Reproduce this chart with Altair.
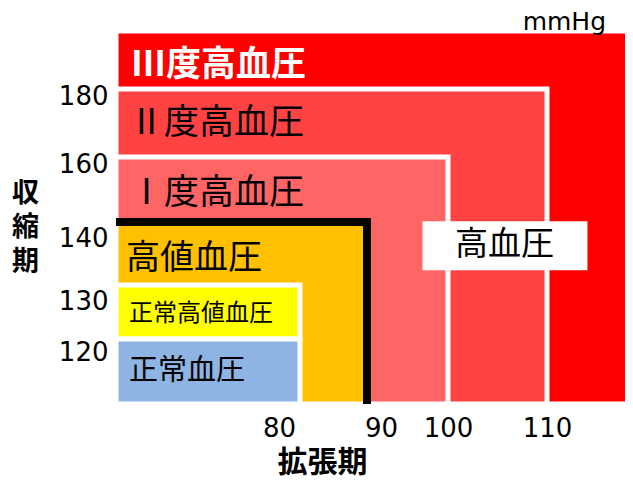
import altair as alt
import pandas as pd

# ---- data ----
categories = ["Ⅲ度高血圧", "Ⅱ度高血圧", "Ⅰ度高血圧", "高値血圧", "正常高値血圧", "正常血圧"]
sys_low = [100, 100, 100, 100, 120, 100]
sys_high = [200, 180, 160, 140, 130, 120]
dia_low = [60, 60, 60, 60, 60, 60]
dia_high = [130, 110, 100, 90, 80, 80]
region_colors = ["#FF0000", "#FF4343", "#FF6565", "#FFC000", "#FFFF00", "#8DB4E2"]

sys_ticks = [120, 130, 140, 160, 180]
dia_ticks = [80, 90, 100, 110]

# border of the "high blood pressure" threshold (thick black line)
border_dia = [60, 90, 90]
border_sys = [140, 140, 100]

annotation_text = ["高血圧"]
annotation_dia = [105.7]
annotation_sys = [136.3]

# label position: middle of each band between successive upper bounds
bounds = sorted(set(sys_high + [min(sys_low)]), reverse=True)
label_sys = [(bounds[i] + bounds[i + 1]) / 2 for i in range(len(categories))]

regions = pd.DataFrame({
    "category": categories,
    "sys_low": sys_low,
    "sys_high": sys_high,
    "dia_low": dia_low,
    "dia_high": dia_high,
    "label_sys": label_sys,
})
border = pd.DataFrame({"dia": border_dia, "sys": border_sys, "i": range(len(border_dia))})
annot = pd.DataFrame({"text": annotation_text, "dia": annotation_dia, "sys": annotation_sys})

JP = "Noto Sans CJK JP"
NUM = "DejaVu Sans"

W, H = 509, 373
x_scale = alt.Scale(domain=[60, 80, 90, 100, 110, 130], range=[0, 184, 251, 332, 431, 540],
                    nice=False, zero=False)
y_scale = alt.Scale(domain=[100, 120, 130, 140, 160, 180, 200], range=[373, 308, 254, 191, 126, 58, 0],
                    nice=False, zero=False)

x_axis = alt.Axis(
    values=dia_ticks, domain=False, ticks=False, grid=False,
    labelFont=NUM, labelFontSize=26, labelColor="black", labelPadding=11,
    labelOffset={"condition": [{"test": "datum.value == 80", "value": -21},
                               {"test": "datum.value == 90", "value": 14}], "value": 0},
    title="拡張期", titleFont=JP, titleFontSize=30, titleFontWeight="bold", titleColor="black",
    titleX=206, titleY=58, titleAlign="center", titleBaseline="middle", titleAngle=0,
)
y_axis = alt.Axis(
    values=sys_ticks, domain=False, ticks=False, grid=False,
    labelFont=NUM, labelFontSize=26, labelColor="black", labelPadding=8,
    labelOffset={"condition": [{"test": "datum.value == 140", "value": 16},
                               {"test": "datum.value == 130", "value": 16},
                               {"test": "datum.value == 120", "value": 13}], "value": 7},
    title=["収", "縮", "期"], titleFont=JP, titleFontSize=27, titleFontWeight="bold", titleColor="black",
    titleAngle=0, titleX=-91, titleY=162, titleAlign="center", titleBaseline="middle", titleLineHeight=34,
)


def X(field):
    return alt.X(field, scale=x_scale, axis=x_axis)


def Y(field):
    return alt.Y(field, scale=y_scale, axis=y_axis)


rects = alt.Chart(regions).mark_rect(stroke="white", strokeWidth=5).encode(
    x=X("dia_low:Q"),
    x2="dia_high:Q",
    y=Y("sys_low:Q"),
    y2="sys_high:Q",
    color=alt.Color("category:N", scale=alt.Scale(domain=categories, range=region_colors), legend=None),
)

line = alt.Chart(border).mark_line(color="black", strokeWidth=8, strokeJoin="miter", strokeCap="butt").encode(
    x=X("dia:Q"),
    y=Y("sys:Q"),
    order="i:Q",
)


def label(name, size, color="black", weight="normal", dx=13, dy=0):
    return alt.Chart(regions).transform_filter(alt.datum.category == name).mark_text(
        align="left", baseline="middle", dx=dx, dy=dy, font=JP, fontSize=size, color=color, fontWeight=weight
    ).encode(
        x=X("dia_low:Q"),
        y=Y("label_sys:Q"),
        text="category:N",
    )


labels = [
    label("Ⅲ度高血圧", 35, "white", "bold", dx=15, dy=5),
    label("Ⅱ度高血圧", 35),
    label("Ⅰ度高血圧", 35, dy=3),
    label("高値血圧", 34, dx=10, dy=5),
    label("正常高値血圧", 24, dy=2),
    label("正常血圧", 29, dy=-1),
]

box = alt.Chart(annot).mark_rect(color="white", xOffset=-82, x2Offset=83, yOffset=-24, y2Offset=25).encode(
    x=X("dia:Q"),
    x2="dia:Q",
    y=Y("sys:Q"),
    y2="sys:Q",
)
box_text = alt.Chart(annot).mark_text(font=JP, fontSize=33, color="black", align="center", baseline="middle").encode(
    x=X("dia:Q"),
    y=Y("sys:Q"),
    text="text:N",
)

chart = alt.layer(rects, line, *labels, box, box_text).properties(
    width=W, height=H,
    title=alt.TitleParams("mmHg", anchor="end", frame="group", font=NUM, fontSize=25,
                          fontWeight="normal", color="black", dx=-19, offset=-6),
    padding={"left": 108, "top": 23, "right": 0, "bottom": 76},
    autosize=alt.AutoSizeParams(type="none"),
).configure_view(strokeWidth=0).configure(background="white")

chart.save("out.html", embed_options={"renderer": "svg", "actions": False})
